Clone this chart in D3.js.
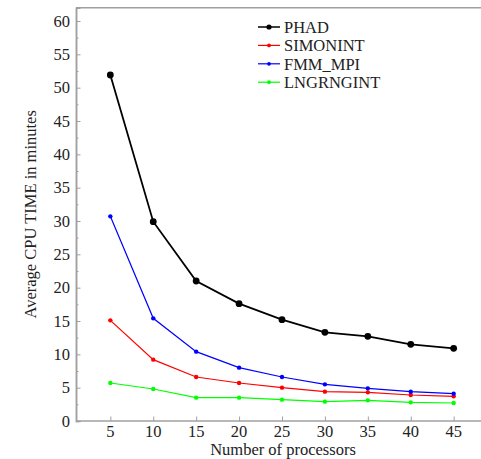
<!DOCTYPE html>
<html>
<head>
<meta charset="utf-8">
<script src="https://cdn.jsdelivr.net/npm/d3@7"></script>
<style>
  body { margin: 0; background: #fff; }
  text { font-family: "Liberation Serif", "DejaVu Serif", serif; fill: #222; }
</style>
</head>
<body>
<svg width="481" height="459"></svg>
<script>
const processors = [5, 10, 15, 20, 25, 30, 35, 40, 45];
const phad      = [51.9, 29.9, 21.0, 17.6, 15.2, 13.3, 12.7, 11.5, 10.9];
const simonint  = [15.1, 9.2, 6.6, 5.7, 5.0, 4.4, 4.3, 3.9, 3.7];
const fmmMpi    = [30.7, 15.4, 10.4, 8.0, 6.6, 5.5, 4.9, 4.4, 4.1];
const lngrngint = [5.7, 4.8, 3.5, 3.5, 3.2, 2.9, 3.1, 2.8, 2.7];
const seriesNames = ["PHAD", "SIMONINT", "FMM_MPI", "LNGRNGINT"];
const seriesColors = ["#000000", "#ff0000", "#0000ff", "#00ff00"];
const yTicks = [0, 5, 10, 15, 20, 25, 30, 35, 40, 45, 50, 55, 60];

const series = [phad, simonint, fmmMpi, lngrngint].map((vals, i) => ({
    name: seriesNames[i],
    color: seriesColors[i],
    values: vals.map((v, j) => ({ x: processors[j], y: v }))
}));

const svg = d3.select("svg");
const fontSize = "16.5px";

const x = d3.scaleLinear().domain([1, 49]).range([76, 488]);
const y = d3.scaleLinear().domain([0, 62]).range([421, 421 - 62 * 400 / 60]);

const axisColor = "#a0a0a0";

// top border
svg.append("line")
    .attr("x1", x(1)).attr("x2", 481)
    .attr("y1", y(62)).attr("y2", y(62))
    .attr("stroke", axisColor).attr("stroke-width", 1.5);

// Y axis with minor ticks
const yAxis = svg.append("g").attr("transform", `translate(${x(1)},0)`);
yAxis.call(d3.axisRight(y).tickValues(d3.range(2.5, 62, 5)).tickSize(2.5).tickFormat(""));
yAxis.append("g").call(d3.axisRight(y).tickValues(yTicks).tickSize(4.5).tickFormat(""));
yAxis.selectAll("path").attr("stroke", axisColor).attr("stroke-width", 1.5);
yAxis.selectAll("line").attr("stroke", axisColor).attr("stroke-width", 1);
yAxis.selectAll(".tick-label")
    .data(yTicks).enter().append("text")
    .attr("x", -6).attr("y", d => y(d)).attr("dy", "0.35em")
    .attr("text-anchor", "end").style("font-size", fontSize)
    .text(d => d);

// X axis
const xAxis = svg.append("g").attr("transform", `translate(0,${y(0)})`);
xAxis.call(d3.axisTop(x).tickValues(processors).tickSize(4.5).tickFormat(""));
xAxis.select(".domain").attr("d", `M${x(1)},0H481`);
xAxis.selectAll("path").attr("stroke", axisColor).attr("stroke-width", 1.5);
xAxis.selectAll("line").attr("stroke", axisColor).attr("stroke-width", 1);
xAxis.selectAll(".tick-label")
    .data(processors).enter().append("text")
    .attr("x", d => x(d)).attr("y", 16)
    .attr("text-anchor", "middle").style("font-size", fontSize)
    .text(d => d);

// Axis titles
svg.append("text")
    .attr("x", 283).attr("y", 455)
    .attr("text-anchor", "middle").style("font-size", fontSize)
    .text("Number of processors");

svg.append("text")
    .attr("transform", `translate(36,${(y(0) + y(62)) / 2}) rotate(-90)`)
    .attr("text-anchor", "middle").style("font-size", fontSize)
    .text("Average CPU TIME in minutes");

// Lines and markers
const line = d3.line().x(d => x(d.x)).y(d => y(d.y));

series.forEach((s, i) => {
    svg.append("path")
        .datum(s.values)
        .attr("fill", "none")
        .attr("stroke", s.color)
        .attr("stroke-width", i === 0 ? 1.8 : 1.2)
        .attr("d", line);
    svg.append("g").selectAll("circle")
        .data(s.values).enter().append("circle")
        .attr("cx", d => x(d.x)).attr("cy", d => y(d.y))
        .attr("r", i === 0 ? 3.4 : 2.2)
        .attr("fill", s.color);
});

// Legend
const legend = svg.append("g").attr("transform", "translate(258,27)");
series.forEach((s, i) => {
    const g = legend.append("g").attr("transform", `translate(0,${i * 18.4})`);
    g.append("line").attr("x1", 0).attr("x2", 22).attr("y1", 0).attr("y2", 0)
        .attr("stroke", s.color).attr("stroke-width", i === 0 ? 1.5 : 1.2);
    g.append("circle").attr("cx", 11).attr("cy", 0).attr("r", i === 0 ? 2.6 : 1.9).attr("fill", s.color);
    g.append("text").attr("x", 26).attr("y", 0).attr("dy", "0.35em")
        .style("font-size", fontSize).text(s.name);
});
</script>
</body>
</html>
